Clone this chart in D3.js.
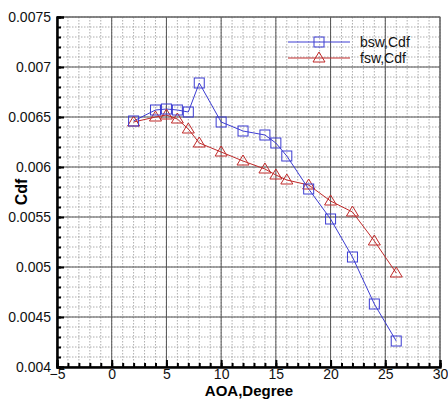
<!DOCTYPE html>
<html><head><meta charset="utf-8">
<script src="https://cdn.jsdelivr.net/npm/d3@7"></script>
<style>body{margin:0;background:#fff}svg{display:block}</style>
</head><body>
<script>
const aoa = [2,4,5,6,7,8,10,12,14,15,16,18,20,22,24,26];
const bswCdf = [0.00646,0.00657,0.00658,0.00657,0.00655,0.00684,0.00645,0.00636,0.00632,0.00624,0.00611,0.00578,0.00548,0.00510,0.00463,0.00426];
const fswCdf = [0.00645,0.00650,0.00652,0.00648,0.00638,0.00624,0.00615,0.00606,0.00598,0.00592,0.00587,0.00582,0.00566,0.00555,0.00526,0.00494];
const xTicks = [-5,0,5,10,15,20,25,30];
const yTicks = [0.004,0.0045,0.005,0.0055,0.006,0.0065,0.007,0.0075];
const seriesNames = ["bsw,Cdf","fsw,Cdf"];

const W=448,H=401;
const L=57,R=440,T=17,B=367;
const FONT="Liberation Sans, Arial, sans-serif";
const svg=d3.select("body").append("svg").attr("width",W).attr("height",H);
const x=d3.scaleLinear().domain([-5,30]).range([L,R]);
const y=d3.scaleLinear().domain([0.004,0.0075]).range([B,T]);

const xMinor=d3.range(-5,30.01,1), yMinor=d3.range(0.004,0.00751,0.0001);
const g=svg.append("g");
g.selectAll(".vx").data(xMinor).join("line").attr("x1",d=>x(d)).attr("x2",d=>x(d)).attr("y1",T).attr("y2",B)
 .attr("stroke","#999").attr("stroke-width",0.8).attr("stroke-dasharray","1.5,1.5");
g.selectAll(".hy").data(yMinor).join("line").attr("y1",d=>y(d)).attr("y2",d=>y(d)).attr("x1",L).attr("x2",R)
 .attr("stroke","#999").attr("stroke-width",0.8).attr("stroke-dasharray","1.5,1.5");
g.selectAll(".vX").data(xTicks).join("line").attr("x1",d=>x(d)).attr("x2",d=>x(d)).attr("y1",T).attr("y2",B)
 .attr("stroke","#555").attr("stroke-width",1);
g.selectAll(".hY").data(yTicks).join("line").attr("y1",d=>y(d)).attr("y2",d=>y(d)).attr("x1",L).attr("x2",R)
 .attr("stroke","#555").attr("stroke-width",1);
svg.append("rect").attr("x",L).attr("y",T).attr("width",R-L).attr("height",B-T).attr("fill","none").attr("stroke","#666").attr("stroke-width",1);

const xAxis=d3.axisBottom(x).tickValues(xTicks).tickSize(-7).tickPadding(2).tickFormat(d3.format("d"));
const xg=svg.append("g").attr("transform",`translate(0,${B})`).call(xAxis);
const xAxisMinor=d3.axisBottom(x).tickValues(xMinor).tickSize(-4).tickFormat("");
const xgm=svg.append("g").attr("transform",`translate(0,${B})`).call(xAxisMinor);
const yAxis=d3.axisLeft(y).tickValues(yTicks).tickSize(-7).tickPadding(6).tickFormat(d=>String(+d.toFixed(4)));
const yg=svg.append("g").attr("transform",`translate(${L},0)`).call(yAxis);
const yAxisMinor=d3.axisLeft(y).tickValues(yMinor).tickSize(-4).tickFormat("");
const ygm=svg.append("g").attr("transform",`translate(${L},0)`).call(yAxisMinor);
[xg,xgm,yg,ygm].forEach(a=>{
  a.select(".domain").attr("stroke","#000").attr("stroke-width",2);
  a.selectAll(".tick line").attr("stroke","#000").attr("stroke-width",2);
  a.selectAll("text").attr("font-family",FONT).attr("font-size",14).attr("fill","#111");
});

svg.append("text").attr("x",249).attr("y",396).attr("text-anchor","middle")
 .attr("font-family",FONT).attr("font-weight","bold").attr("font-size",15).text("AOA,Degree");
svg.append("text").attr("transform","translate(27,192) rotate(-90)").attr("text-anchor","middle")
 .attr("font-family",FONT).attr("font-weight","bold").attr("font-size",16).text("Cdf");

const blue="#3c3cd2", red="#bf2a2a";
const line=d3.line().x(d=>x(d[0])).y(d=>y(d[1]));
const bData=aoa.map((a,i)=>[a,bswCdf[i]]), fData=aoa.map((a,i)=>[a,fswCdf[i]]);
svg.append("path").attr("d",line(fData)).attr("fill","none").attr("stroke",red).attr("stroke-width",1);
svg.append("path").attr("d",line(bData)).attr("fill","none").attr("stroke",blue).attr("stroke-width",1);
const tri=(cx,cy)=>`M${cx},${cy-6}L${cx+6},${cy+4}L${cx-6},${cy+4}Z`;
svg.selectAll(".tri").data(fData).join("path").attr("d",d=>tri(x(d[0]),y(d[1])))
 .attr("fill","none").attr("stroke",red).attr("stroke-width",1);
svg.selectAll(".sq").data(bData).join("rect").attr("x",d=>x(d[0])-5).attr("y",d=>y(d[1])-5).attr("width",10).attr("height",10)
 .attr("fill","none").attr("stroke",blue).attr("stroke-width",1);

const lg=svg.append("g");
const ly=[42,58], cols=[blue,red];
seriesNames.forEach((n,i)=>{
  lg.append("line").attr("x1",288).attr("x2",350).attr("y1",ly[i]).attr("y2",ly[i]).attr("stroke",cols[i]).attr("stroke-width",1);
  if(i===0) lg.append("rect").attr("x",314).attr("y",ly[i]-5).attr("width",10).attr("height",10).attr("fill","none").attr("stroke",cols[i]);
  else lg.append("path").attr("d",tri(319,ly[i])).attr("fill","none").attr("stroke",cols[i]);
  lg.append("text").attr("x",360).attr("y",ly[i]+5).attr("font-family",FONT).attr("font-size",14).attr("fill","#111").text(n);
});
</script>
</body></html>
